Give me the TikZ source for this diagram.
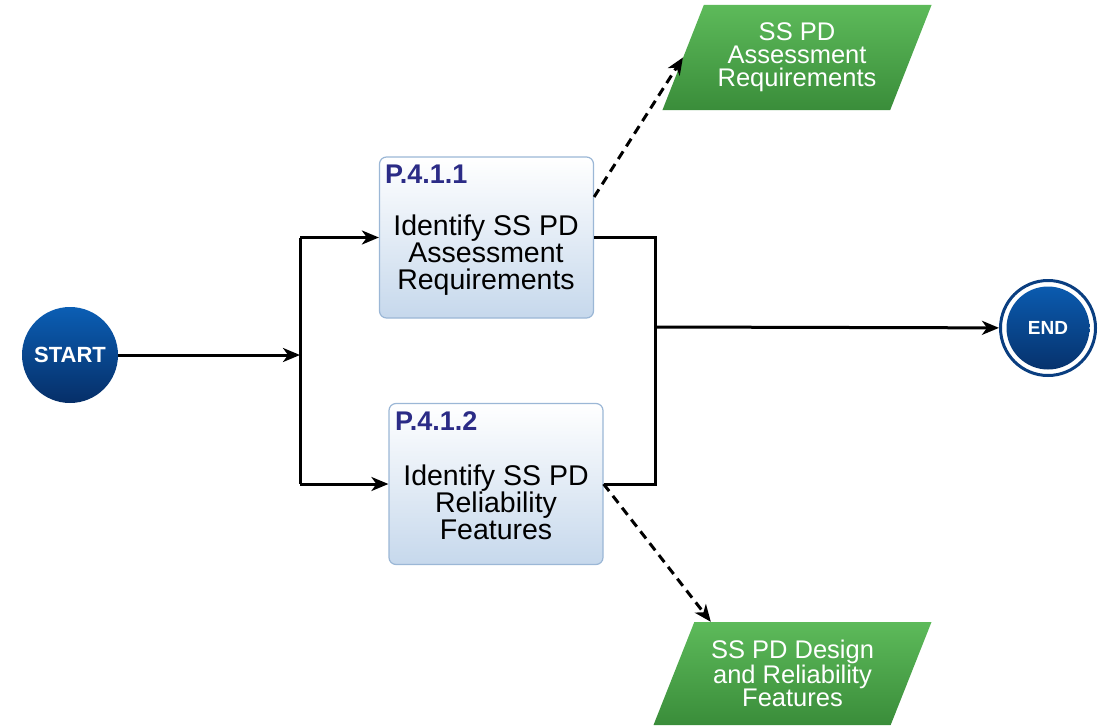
\documentclass[tikz,border=0pt]{standalone}
\usepackage{fontspec}
\setmainfont{Liberation Sans}
\usetikzlibrary{shapes.geometric,arrows.meta,calc}
\definecolor{termTop}{HTML}{0B5EB4}
\definecolor{termBot}{HTML}{062F68}
\definecolor{endRing}{HTML}{0A3E80}
\definecolor{boxEdge}{HTML}{9BB7D6}
\definecolor{boxBot}{HTML}{C6D8EC}
\definecolor{idBlue}{HTML}{2B2B86}
\definecolor{dataTop}{HTML}{5DBA5A}
\definecolor{dataBot}{HTML}{3A8D3A}
\begin{document}
\begin{tikzpicture}[x=1pt,y=-1pt,
  startnode/.style={circle, minimum size=96pt, inner sep=0pt,
    top color=termTop, bottom color=termBot, text=white,
    font=\bfseries\fontsize{22}{22}\selectfont},
  endnode/.style={circle, minimum size=95pt, inner sep=0pt,
    draw=endRing, line width=3pt, fill=white, text=white,
    font=\bfseries\fontsize{19}{19}\selectfont,
    path picture={\shade[top color=termTop, bottom color=termBot]
      (path picture bounding box.center) circle (41.5pt);}},
  procbox/.style={draw=boxEdge, line width=1.2pt, rounded corners=7pt,
    top color=white, bottom color=boxBot,
    minimum width=214pt, minimum height=161pt, inner sep=0pt},
  proctext/.style={align=center, inner sep=0pt,
    font=\fontsize{28.5}{27}\selectfont},
  procid/.style={anchor=base west, inner sep=0pt, text=idBlue,
    font=\bfseries\fontsize{27}{27}\selectfont},
  datanode/.style={trapezium, trapezium left angle=63,
    trapezium right angle=117, trapezium stretches=true,
    top color=dataTop, bottom color=dataBot, text=white,
    align=center, inner sep=0pt, font=\fontsize{25.5}{23}\selectfont},
  flow/.style={line width=3pt, -{Stealth[length=17pt,width=14pt,inset=5pt]}},
  link/.style={line width=3pt},
  dataflow/.style={flow, dash pattern=on 9pt off 6pt}
]
\useasboundingbox (0,0) rectangle (1115,725);

% terminators
\node[startnode] (start) at (70,355) {START};
\node[endnode] (end) at (1048,328) {END};

% process boxes
\node[procbox] (b1) at (486.5,237.5) {};
\node[procid] (b1id) at (385,183) {P.4.1.1};
\node[proctext] (b1t) at (486,255) {Identify SS PD\\Assessment\\Requirements};

\node[procbox] (b2) at (496,484) {};
\node[procid] (b2id) at (395,430) {P.4.1.2};
\node[proctext] (b2t) at (496,502) {Identify SS PD\\Reliability\\Features};

% data outputs
\node[datanode, minimum width=270pt, minimum height=105pt] (d1) at (797,57.5)
  {SS PD\\Assessment\\Requirements};
\node[datanode, minimum width=279pt, minimum height=103pt] (d2) at (792.5,673.5)
  {SS PD Design\\and Reliability\\Features};

% split and merge points
\coordinate (split) at (300,355);
\coordinate (merge) at (655,327);

% control flow
\draw[flow] (start) -- (split);
\draw[link] (split) -- (split |- b1.west);
\draw[link] (split) -- (split |- b2.west);
\draw[flow] (split |- b1.west) -- (b1.west);
\draw[flow] (split |- b2.west) -- (b2.west);
\draw[link] (b1.east) -| (merge) |- (b2.east);
\draw[flow] (merge) -- (end);

% data flow
\draw[dataflow] ($(b1.north east)!0.25!(b1.south east)$) -- (d1.west);
\draw[dataflow] (b2.east) -- ($(d2.top left corner)!0.07!(d2.top right corner)$);
\end{tikzpicture}
\end{document}
